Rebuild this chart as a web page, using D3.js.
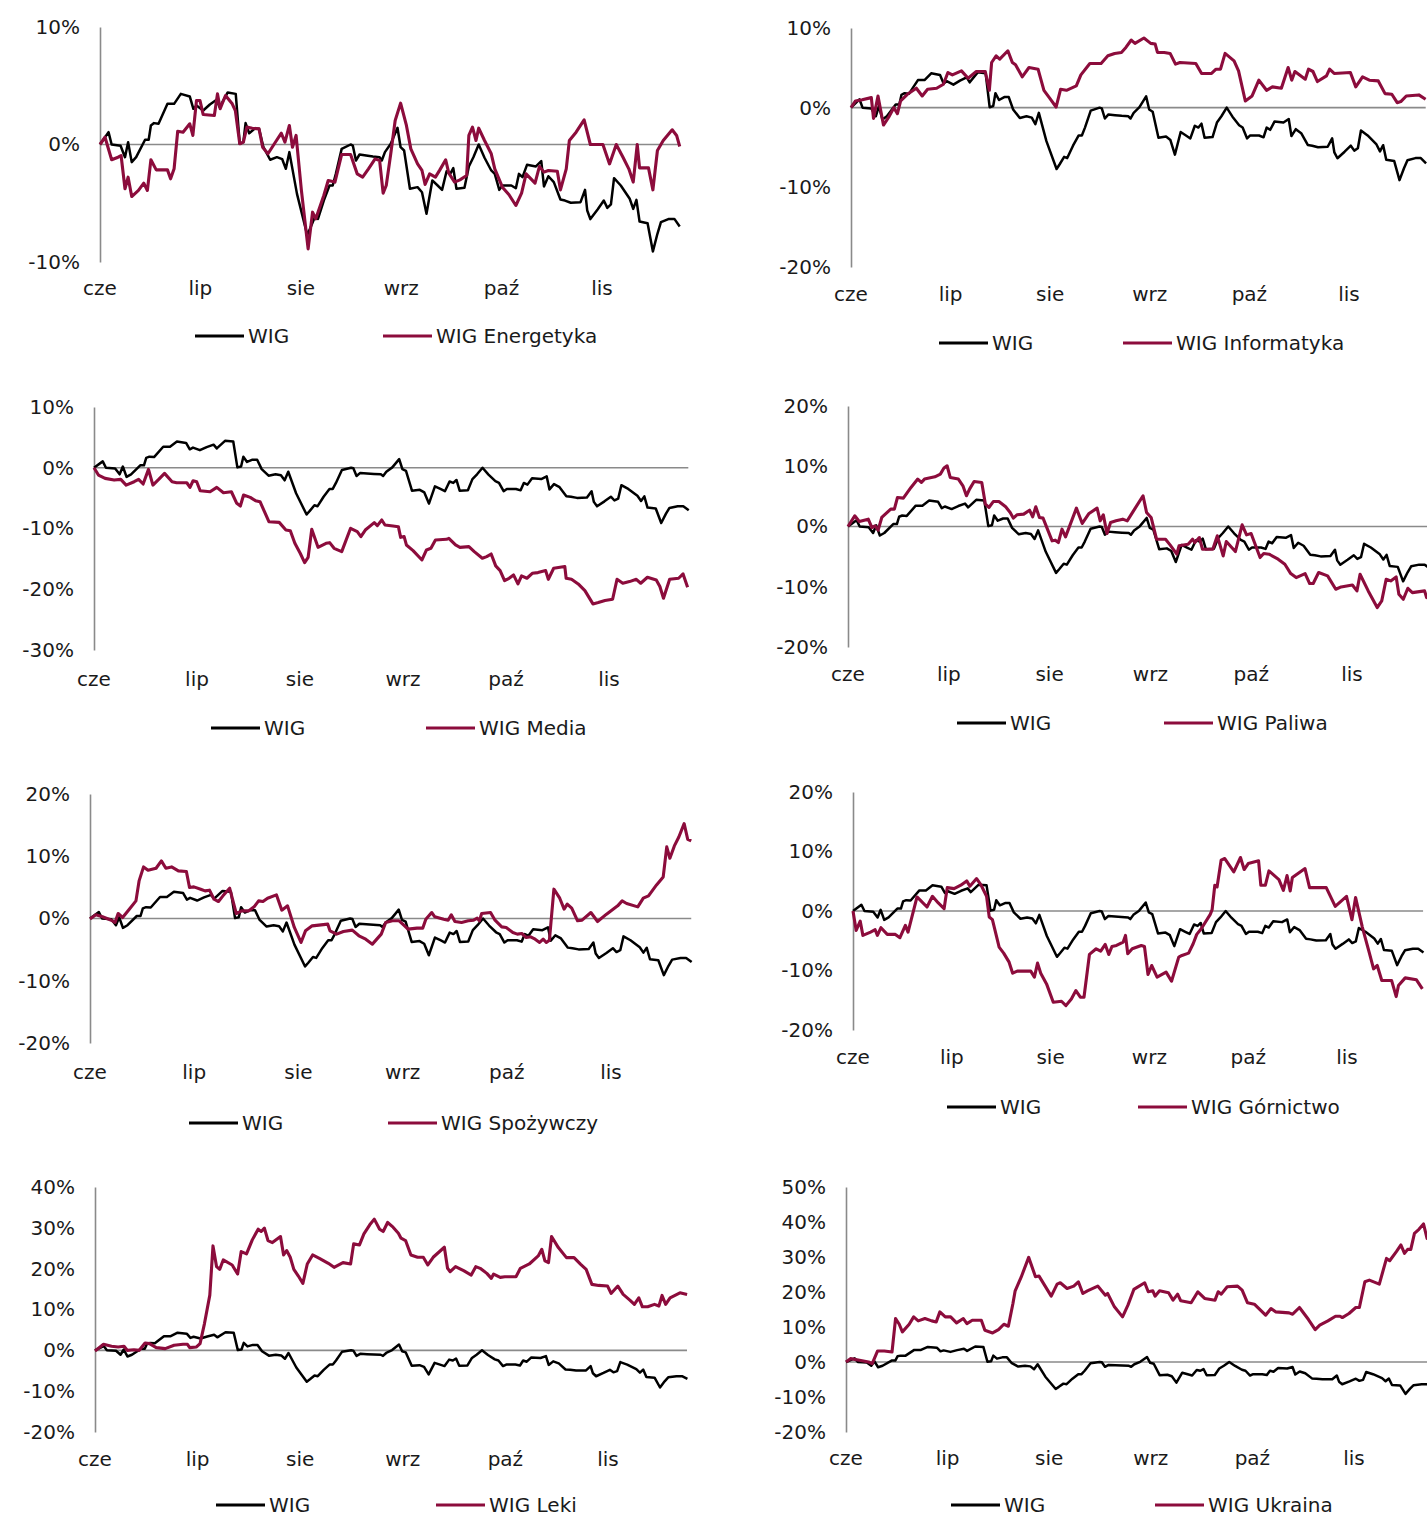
<!DOCTYPE html>
<html lang="pl">
<head>
<meta charset="UTF-8"/>
<title>WIG vs indeksy sektorowe</title>
<script src="https://d3js.org/d3.v7.min.js"></script>
<style>
  html, body { margin: 0; padding: 0; background: #fff; overflow: hidden; }
  svg text { font-family: Verdana, "DejaVu Sans", sans-serif; font-size: 20px; fill: #1a1a1a; }
</style>
</head>
<body>
<script>
// month labels (x axis), position 0 = start of June
var months = ["cze", "lip", "sie", "wrz", "paź", "lis"];
var lastT = 5.77;

// series: [months since 1 June, % change]
var wig = [[0,0],[0.085,1.05],[0.116,0],[0.205,-0.11],[0.249,-1.08],[0.28,0.2],[0.316,-1.5],[0.36,-1.08],[0.449,0.4],[0.485,0.4],[0.507,1.62],[0.538,1.82],[0.583,1.76],[0.672,3.46],[0.738,3.46],[0.805,4.31],[0.894,4.09],[0.93,3.04],[0.961,3.32],[1.028,2.89],[1.094,3.4],[1.161,3.8],[1.192,3.18],[1.272,4.43],[1.352,4.31],[1.392,0.06],[1.428,0.2],[1.45,1.82],[1.486,0.96],[1.539,1.33],[1.584,1.33],[1.628,-0.23],[1.695,-1.3],[1.762,-1.08],[1.815,-1.25],[1.851,-2.07],[1.886,-0.65],[1.962,-4.2],[2.064,-7.7],[2.095,-7.1],[2.14,-6.18],[2.171,-6.33],[2.229,-4.77],[2.286,-3.49],[2.318,-3.49],[2.349,-2.5],[2.407,-0.37],[2.496,0],[2.518,-0.09],[2.549,-1.36],[2.585,-0.85],[2.651,-0.94],[2.718,-1.02],[2.785,-1.08],[2.807,-1.36],[2.838,-0.65],[2.896,0.06],[2.963,1.42],[2.994,-0.23],[3.029,-0.51],[3.087,-3.77],[3.163,-3.63],[3.207,-4.06],[3.252,-5.9],[3.31,-3.06],[3.363,-3.49],[3.407,-3.86],[3.452,-2.27],[3.488,-2.5],[3.519,-2.01],[3.55,-3.77],[3.63,-3.69],[3.674,-1.87],[3.719,-1.08],[3.772,0],[3.83,-1.13],[3.897,-2.21],[3.932,-2.5],[3.977,-3.86],[4.008,-3.49],[4.097,-3.49],[4.142,-3.72],[4.173,-2.5],[4.208,-2.78],[4.253,-1.73],[4.342,-1.87],[4.395,-1.42],[4.422,-3.57],[4.466,-2.7],[4.52,-3.2],[4.586,-4.68],[4.631,-4.77],[4.689,-4.96],[4.786,-4.91],[4.831,-3.86],[4.853,-5.62],[4.884,-6.35],[4.956,-5.53],[5.018,-4.77],[5.053,-5.39],[5.089,-5.1],[5.12,-2.87],[5.187,-3.49],[5.276,-4.62],[5.311,-5.48],[5.343,-4.71],[5.374,-6.55],[5.454,-6.7],[5.507,-9.1],[5.552,-7.6],[5.587,-6.61],[5.667,-6.33],[5.721,-6.33],[5.774,-6.98]];

var energetyka = [[0,0],[0.05,0.62],[0.116,-1.3],[0.18,-1.08],[0.21,-0.94],[0.249,-3.77],[0.28,-2.78],[0.316,-4.43],[0.383,-3.91],[0.436,-3.29],[0.472,-3.91],[0.507,-1.3],[0.56,-2.16],[0.672,-2.16],[0.703,-2.92],[0.738,-2.07],[0.774,1.13],[0.827,1.05],[0.894,1.76],[0.925,0.77],[0.961,3.74],[0.996,3.74],[1.028,2.55],[1.139,2.47],[1.17,4.31],[1.197,3.04],[1.25,4.17],[1.317,3.46],[1.348,2.89],[1.392,0.06],[1.428,0.2],[1.463,1.48],[1.517,1.39],[1.584,1.33],[1.62,-0.23],[1.673,-0.79],[1.74,0.11],[1.806,0.96],[1.842,0.2],[1.886,1.62],[1.917,-0.23],[1.953,0.77],[2.006,-3.91],[2.073,-8.88],[2.117,-5.76],[2.149,-6.33],[2.229,-4.34],[2.273,-3.06],[2.34,-3.2],[2.407,-0.85],[2.496,-0.85],[2.562,-2.5],[2.616,-2.78],[2.674,-2.07],[2.74,-1.22],[2.785,-1.36],[2.82,-4.14],[2.851,-3.49],[2.896,-0.79],[2.94,2.04],[2.994,3.52],[3.052,1.62],[3.096,-0.37],[3.163,-1.65],[3.207,-2.21],[3.238,-3.4],[3.283,-2.5],[3.341,-2.78],[3.385,-2.16],[3.443,-1.3],[3.474,-2.44],[3.532,-3.2],[3.585,-3.01],[3.652,-2.64],[3.674,0.77],[3.71,1.48],[3.745,0.34],[3.772,1.39],[3.83,0.34],[3.897,-0.79],[3.932,-2.07],[4.008,-3.63],[4.074,-4.28],[4.142,-5.19],[4.199,-4.14],[4.244,-2.5],[4.333,-3.29],[4.377,-1.87],[4.422,-2.35],[4.466,-2.21],[4.555,-2.27],[4.586,-3.86],[4.644,-2.07],[4.675,0.34],[4.742,1.05],[4.822,2.1],[4.884,0],[5.009,0],[5.075,-1.65],[5.142,0],[5.209,-1.08],[5.267,-2.07],[5.311,-3.2],[5.351,0],[5.374,-1.99],[5.463,-1.99],[5.507,-3.86],[5.552,-0.51],[5.61,0.34],[5.699,1.25],[5.743,0.77],[5.774,-0.17]];

var informatyka = [[0,0],[0.045,0.84],[0.113,1.0],[0.204,1.26],[0.226,-1.34],[0.271,1.47],[0.326,-2.18],[0.385,-1.05],[0.43,0],[0.466,-0.76],[0.498,0.84],[0.566,1.68],[0.656,2.44],[0.715,1.47],[0.769,2.31],[0.86,2.44],[0.928,2.94],[0.973,4.41],[1.018,4.12],[1.109,4.62],[1.176,3.7],[1.258,4.54],[1.348,4.54],[1.389,2.18],[1.412,5.67],[1.457,6.51],[1.493,6.09],[1.575,7.14],[1.62,5.67],[1.652,5.38],[1.719,3.87],[1.787,5.04],[1.878,4.83],[1.937,2.18],[1.991,1.26],[2.059,0.08],[2.104,2.31],[2.163,2.18],[2.262,2.73],[2.308,4.12],[2.398,5.55],[2.511,5.55],[2.579,6.51],[2.647,6.81],[2.715,6.93],[2.76,7.56],[2.814,8.49],[2.851,8.07],[2.941,8.74],[3.009,8.07],[3.054,7.98],[3.077,6.93],[3.145,6.93],[3.204,6.81],[3.258,5.46],[3.303,5.67],[3.462,5.55],[3.52,4.29],[3.62,4.29],[3.665,4.83],[3.71,4.83],[3.756,6.81],[3.846,5.88],[3.891,4.62],[3.959,0.84],[4.027,1.47],[4.095,3.45],[4.172,2.18],[4.231,2.61],[4.321,2.44],[4.389,5.04],[4.425,3.45],[4.457,4.54],[4.561,3.57],[4.593,4.83],[4.638,4.54],[4.683,3.28],[4.774,3.99],[4.805,4.83],[4.851,4.29],[5.014,4.41],[5.068,2.61],[5.136,3.87],[5.204,3.45],[5.294,3.36],[5.362,1.76],[5.43,1.68],[5.484,0.63],[5.52,0.76],[5.575,1.47],[5.701,1.6],[5.769,1.05]];

var media = [[0,0],[0.043,-1.2],[0.108,-1.75],[0.195,-2.03],[0.26,-1.92],[0.312,-2.85],[0.39,-2.3],[0.433,-1.92],[0.477,-2.68],[0.529,-0.27],[0.572,-2.85],[0.628,-1.92],[0.685,-0.93],[0.758,-2.3],[0.802,-2.47],[0.901,-2.47],[0.932,-3.23],[0.962,-2.14],[0.997,-2.3],[1.031,-3.78],[1.127,-3.95],[1.192,-3.23],[1.257,-4.11],[1.334,-3.95],[1.386,-5.86],[1.421,-6.3],[1.452,-4.49],[1.517,-4.88],[1.568,-5.42],[1.612,-5.59],[1.655,-7.23],[1.698,-8.88],[1.798,-8.99],[1.863,-10.25],[1.906,-10.36],[1.95,-12.44],[2.002,-14.08],[2.045,-15.62],[2.079,-14.74],[2.114,-10.14],[2.175,-13.1],[2.253,-12.44],[2.288,-12.33],[2.331,-13.26],[2.405,-13.81],[2.491,-9.97],[2.556,-10.52],[2.591,-11.34],[2.634,-10.25],[2.721,-9.04],[2.751,-9.53],[2.794,-8.6],[2.825,-9.42],[2.903,-9.59],[2.955,-9.7],[2.977,-11.45],[3.011,-11.34],[3.033,-12.71],[3.098,-13.64],[3.184,-15.18],[3.228,-13.53],[3.271,-13.26],[3.315,-11.89],[3.423,-11.78],[3.445,-11.62],[3.51,-12.71],[3.553,-13.1],[3.64,-12.99],[3.692,-13.81],[3.77,-14.9],[3.813,-14.63],[3.856,-14.19],[3.9,-16.16],[3.943,-16.93],[3.986,-18.58],[4.03,-18.19],[4.073,-17.64],[4.116,-19.12],[4.151,-17.81],[4.203,-18.19],[4.255,-17.37],[4.31,-17.26],[4.385,-16.93],[4.411,-18.36],[4.463,-16.55],[4.571,-16.27],[4.584,-18.19],[4.636,-18.36],[4.701,-19.12],[4.766,-20.22],[4.844,-22.41],[4.896,-22.19],[4.961,-21.86],[5.035,-21.64],[5.078,-18.36],[5.134,-19.01],[5.199,-18.74],[5.265,-18.36],[5.308,-19.01],[5.373,-18.03],[5.459,-18.47],[5.494,-19.56],[5.529,-21.48],[5.589,-18.36],[5.676,-18.19],[5.719,-17.48],[5.763,-19.67]];

var paliwa = [[0,0],[0.067,1.77],[0.112,0.83],[0.201,1.22],[0.237,-0.17],[0.268,0.11],[0.299,-0.61],[0.335,1.5],[0.424,2.88],[0.46,2.88],[0.491,4.82],[0.549,4.71],[0.625,6.48],[0.692,7.87],[0.728,7.31],[0.759,7.87],[0.862,8.25],[0.916,8.7],[0.952,9.7],[0.983,10.08],[1.014,8.14],[1.095,7.87],[1.14,6.76],[1.175,5.1],[1.206,6.2],[1.251,7.48],[1.327,7.31],[1.363,3.71],[1.398,3.16],[1.443,4.16],[1.497,4.16],[1.564,3.27],[1.609,2.33],[1.64,1.39],[1.676,1.94],[1.743,2.05],[1.801,2.71],[1.832,1.61],[1.863,3.27],[1.899,1.5],[1.935,1.39],[2.025,-2.38],[2.056,-2.27],[2.087,-2.66],[2.123,-0.44],[2.158,-1.72],[2.266,3.05],[2.324,0.5],[2.391,2.16],[2.471,3.05],[2.502,0.94],[2.533,1.94],[2.569,-1.16],[2.605,0.66],[2.659,0.94],[2.726,1.22],[2.77,0.94],[2.837,2.71],[2.927,5.1],[2.962,2.33],[3.007,1.5],[3.061,-2.11],[3.15,-2.11],[3.195,-3.05],[3.262,-4.6],[3.284,-3.21],[3.374,-2.94],[3.418,-2.11],[3.441,-2.66],[3.485,-1.83],[3.517,-3.77],[3.619,-3.77],[3.664,-1.55],[3.722,-4.88],[3.753,-2.49],[3.843,-4.16],[3.91,0.28],[3.954,-1.39],[3.999,-1.16],[4.088,-5.15],[4.124,-4.49],[4.178,-4.6],[4.267,-5.43],[4.334,-6.26],[4.392,-7.81],[4.446,-8.48],[4.535,-7.81],[4.58,-9.47],[4.615,-9.47],[4.669,-7.64],[4.758,-8.2],[4.839,-10.42],[4.892,-10.03],[5.004,-9.7],[5.049,-10.69],[5.08,-7.92],[5.161,-10.69],[5.25,-13.46],[5.295,-12.35],[5.339,-8.75],[5.384,-9.03],[5.438,-8.37],[5.465,-11.25],[5.509,-12.08],[5.554,-10.25],[5.599,-10.97],[5.72,-10.69],[5.74,-11.8],[5.774,-11.2]];

var spozywczy = [[0,-0.1],[0.056,0.59],[0.12,0.27],[0.205,-0.27],[0.24,-0.64],[0.27,0.8],[0.313,0.16],[0.377,1.5],[0.441,2.83],[0.471,6.04],[0.514,8.29],[0.557,7.75],[0.634,8.07],[0.685,9.25],[0.728,8.07],[0.783,8.29],[0.848,7.65],[0.925,7.54],[0.955,4.97],[0.997,5.08],[1.062,4.71],[1.104,4.44],[1.147,4.55],[1.19,3.1],[1.233,2.73],[1.276,3.64],[1.34,4.87],[1.404,0.8],[1.455,1.23],[1.524,1.23],[1.575,1.87],[1.618,2.83],[1.66,2.73],[1.704,3.26],[1.789,3.8],[1.841,1.34],[1.896,2.03],[1.961,-1.44],[2.025,-3.85],[2.068,-1.98],[2.132,-1.18],[2.218,-1.02],[2.282,-0.91],[2.303,-1.98],[2.367,-2.51],[2.432,-2.09],[2.517,-1.87],[2.581,-2.78],[2.646,-3.32],[2.71,-4.12],[2.795,-2.51],[2.838,-0.64],[2.902,-0.37],[2.967,-0.37],[3.009,-1.02],[3.052,-1.71],[3.138,-1.55],[3.193,-1.55],[3.223,-0.11],[3.279,0.96],[3.309,0.27],[3.394,-0.11],[3.437,-0.27],[3.467,0.59],[3.502,-0.48],[3.566,-0.64],[3.63,-0.37],[3.682,-0.27],[3.716,0.05],[3.737,-0.37],[3.759,0.8],[3.844,0.96],[3.887,-0.27],[3.951,-1.34],[3.994,-1.44],[4.058,-2.25],[4.101,-2.51],[4.144,-2.41],[4.187,-3.05],[4.229,-2.94],[4.272,-3.32],[4.315,-3.85],[4.349,-3.32],[4.379,-3.85],[4.409,-3.48],[4.452,4.71],[4.508,3.26],[4.55,1.5],[4.58,2.3],[4.623,1.66],[4.679,-0.37],[4.722,-0.27],[4.807,0.96],[4.871,-0.48],[4.957,0.7],[5.064,2.03],[5.107,2.83],[5.15,2.41],[5.257,1.87],[5.31,3.26],[5.36,3.64],[5.437,5.4],[5.501,6.68],[5.535,11.5],[5.565,9.68],[5.608,11.66],[5.651,13.1],[5.702,15.24],[5.736,12.73],[5.77,12.46]];

var gornictwo = [[0,0],[0.032,-3.26],[0.073,-1.69],[0.1,-4.1],[0.178,-3.54],[0.224,-3.15],[0.247,-4.1],[0.283,-2.81],[0.347,-3.93],[0.429,-3.93],[0.475,-4.49],[0.53,-2.42],[0.557,-3.54],[0.648,2.36],[0.749,0.67],[0.804,2.47],[0.863,1.35],[0.922,0.39],[0.954,3.93],[1.023,3.76],[1.091,4.33],[1.151,5.06],[1.183,4.16],[1.251,5.45],[1.297,4.33],[1.352,2.47],[1.379,-1.01],[1.411,-1.46],[1.479,-6.07],[1.525,-7.08],[1.58,-8.6],[1.616,-10.45],[1.662,-10.11],[1.799,-10.11],[1.836,-11.12],[1.868,-8.76],[1.9,-10.45],[1.959,-12.25],[2.027,-15.34],[2.11,-15.17],[2.155,-15.9],[2.21,-14.78],[2.256,-13.37],[2.301,-14.49],[2.338,-14.49],[2.393,-7.3],[2.461,-6.35],[2.507,-6.74],[2.553,-5.62],[2.589,-7.3],[2.621,-5.96],[2.667,-5.79],[2.735,-5.22],[2.758,-4.1],[2.781,-7.19],[2.826,-6.35],[2.918,-5.79],[2.95,-5.96],[2.986,-10.67],[3.023,-9.16],[3.078,-11.12],[3.169,-10.28],[3.224,-11.8],[3.297,-7.75],[3.329,-7.47],[3.397,-7.08],[3.443,-5.51],[3.479,-3.93],[3.525,-2.98],[3.616,-0.56],[3.635,0.22],[3.662,4.33],[3.685,4.04],[3.726,8.54],[3.763,8.82],[3.854,6.57],[3.922,8.99],[3.959,6.97],[4.0,7.98],[4.105,8.43],[4.128,4.33],[4.174,4.33],[4.21,6.74],[4.311,5.28],[4.356,3.48],[4.393,5.96],[4.425,3.37],[4.447,5.62],[4.575,7.13],[4.621,3.93],[4.79,3.93],[4.881,0.79],[4.995,2.47],[5.05,-1.46],[5.087,2.25],[5.155,-2.7],[5.224,-6.91],[5.269,-9.72],[5.306,-9.16],[5.352,-11.69],[5.452,-11.69],[5.498,-14.38],[5.521,-12.53],[5.589,-11.24],[5.703,-11.57],[5.763,-13.09]];

var leki = [[0,-0.16],[0.083,1.48],[0.161,0.98],[0.226,0.82],[0.283,0.98],[0.314,0],[0.379,0.16],[0.431,0],[0.488,1.8],[0.531,1.64],[0.597,0.66],[0.684,0.41],[0.771,1.23],[0.858,1.48],[0.901,1.48],[0.923,0.66],[0.989,0.82],[1.024,1.64],[1.067,6.56],[1.119,13.52],[1.15,25.57],[1.185,20.49],[1.215,19.84],[1.25,22.13],[1.337,20.9],[1.39,18.69],[1.425,24.18],[1.477,23.61],[1.533,27.05],[1.59,29.67],[1.62,29.1],[1.651,29.92],[1.686,26.89],[1.729,26.39],[1.808,27.87],[1.838,23.36],[1.868,24.43],[1.903,22.79],[1.938,19.84],[1.982,18.2],[2.026,16.39],[2.069,21.15],[2.121,23.36],[2.187,22.54],[2.274,21.31],[2.33,20.33],[2.417,21.48],[2.491,21.15],[2.521,26.07],[2.578,25.82],[2.621,28.52],[2.678,30.74],[2.722,32.13],[2.774,29.67],[2.809,29.1],[2.852,31.31],[2.905,30.16],[2.957,28.69],[2.983,27.46],[3.027,26.89],[3.079,23.36],[3.144,22.79],[3.2,22.79],[3.244,20.9],[3.296,22.79],[3.405,25.25],[3.436,20.08],[3.462,19.26],[3.514,20.49],[3.593,19.51],[3.667,18.44],[3.711,20.49],[3.754,20.08],[3.819,18.85],[3.863,17.62],[3.885,18.69],[3.95,17.87],[3.994,18.03],[4.103,18.03],[4.146,20.08],[4.233,21.15],[4.32,23.11],[4.355,24.75],[4.385,21.89],[4.42,21.48],[4.45,27.87],[4.516,25.16],[4.595,22.71],[4.669,22.71],[4.734,21.07],[4.787,19.84],[4.843,16.15],[4.909,15.9],[4.996,15.74],[5.03,13.93],[5.096,15.74],[5.148,13.69],[5.213,12.3],[5.257,11.25],[5.3,12.87],[5.335,10.66],[5.387,10.66],[5.453,11.25],[5.496,10.84],[5.527,13.44],[5.562,11.25],[5.605,12.87],[5.701,14.1],[5.771,13.69]];

var ukraina = [[0,0],[0.044,0.96],[0.133,0.48],[0.222,0],[0.258,-0.48],[0.311,3.15],[0.377,3.15],[0.453,2.87],[0.488,12.42],[0.524,10.79],[0.555,8.6],[0.622,10.79],[0.666,12.89],[0.711,11.75],[0.777,12.42],[0.844,11.75],[0.888,11.46],[0.924,14.33],[0.977,12.89],[1.03,12.89],[1.088,11.17],[1.155,12.42],[1.19,10.98],[1.243,11.94],[1.332,11.94],[1.367,9.07],[1.443,8.31],[1.501,9.26],[1.554,10.79],[1.598,10.22],[1.643,16.71],[1.665,20.34],[1.723,24.16],[1.798,29.89],[1.865,24.36],[1.9,24.55],[1.954,21.97],[2.02,18.82],[2.078,22.25],[2.109,22.64],[2.176,21.01],[2.242,21.68],[2.287,22.92],[2.331,19.58],[2.376,20.34],[2.478,21.68],[2.553,19.1],[2.575,19.58],[2.642,15.76],[2.722,12.89],[2.775,16.24],[2.833,20.73],[2.94,22.64],[2.975,20.06],[3.02,20.34],[3.042,18.82],[3.086,20.34],[3.175,19.77],[3.219,17.67],[3.264,19.39],[3.295,17.48],[3.397,16.91],[3.463,20.06],[3.53,18.15],[3.632,17.67],[3.663,20.06],[3.694,19.39],[3.752,21.49],[3.854,21.68],[3.899,20.53],[3.952,16.91],[4.019,16.52],[4.13,13.37],[4.183,15.28],[4.228,14.33],[4.361,14.04],[4.396,13.66],[4.463,15.57],[4.552,12.13],[4.618,9.26],[4.663,10.51],[4.743,11.75],[4.818,13.08],[4.863,13.08],[4.885,12.7],[4.951,13.85],[5.018,15.57],[5.053,15.57],[5.107,22.92],[5.151,23.4],[5.249,22.25],[5.32,29.6],[5.351,28.94],[5.417,31.52],[5.462,33.43],[5.497,31.04],[5.528,32.19],[5.559,32.19],[5.595,36.77],[5.639,37.92],[5.684,39.45],[5.719,35.34],[5.77,36.5]];

// panel layout (pixels) – not data
var panels = [
  {name: "WIG Energetyka",  s: energetyka,  ticks: [-10, 0, 10],                    ax: 100, top: 27,   bot: 262,  mw: 100.4, lab: 288,  leg: 336,  lb: 195, lr: 383},
  {name: "WIG Informatyka", s: informatyka, ticks: [-20, -10, 0, 10],              ax: 851, top: 28,   bot: 267,  mw: 99.6,  lab: 294,  leg: 343,  lb: 939, lr: 1123},
  {name: "WIG Media",       s: media,       ticks: [-30, -20, -10, 0, 10],         ax: 94,  top: 407,  bot: 650,  mw: 103,   lab: 679,  leg: 728,  lb: 211, lr: 426},
  {name: "WIG Paliwa",      s: paliwa,      ticks: [-20, -10, 0, 10, 20],          ax: 848, top: 406,  bot: 647,  mw: 100.8, lab: 674,  leg: 723,  lb: 957, lr: 1164},
  {name: "WIG Spożywczy",   s: spozywczy,   ticks: [-20, -10, 0, 10, 20],          ax: 90,  top: 794,  bot: 1043, mw: 104.2, lab: 1072, leg: 1123, lb: 189, lr: 388},
  {name: "WIG Górnictwo",   s: gornictwo,   ticks: [-20, -10, 0, 10, 20],          ax: 853, top: 792,  bot: 1030, mw: 98.8,  lab: 1057, leg: 1107, lb: 947, lr: 1138},
  {name: "WIG Leki",        s: leki,        ticks: [-20, -10, 0, 10, 20, 30, 40],  ax: 95,  top: 1187, bot: 1432, mw: 102.6, lab: 1459, leg: 1505, lb: 216, lr: 436},
  {name: "WIG Ukraina",     s: ukraina,     ticks: [-20, -10, 0, 10, 20, 30, 40, 50], ax: 846, top: 1187, bot: 1432, mw: 101.6, lab: 1458, leg: 1505, lb: 951, lr: 1155}
];

var red = "#8c0c3c";

var svg = d3.select("body").append("svg")
  .attr("width", 1427)
  .attr("height", 1517);

panels.forEach(function (p) {
  var g = svg.append("g");

  var x = d3.scaleLinear().domain([0, lastT]).range([p.ax, p.ax + lastT * p.mw]);
  var y = d3.scaleLinear().domain([d3.min(p.ticks), d3.max(p.ticks)]).range([p.bot, p.top]);

  // y axis
  var yAxis = d3.axisLeft(y).tickValues(p.ticks).tickSize(0).tickPadding(20)
    .tickFormat(function (d) { return d + "%"; });
  var ya = g.append("g").attr("transform", "translate(" + p.ax + ",0)").call(yAxis);
  ya.select(".domain").attr("stroke", "#8a8a8a").attr("stroke-width", 1.6);
  ya.selectAll("text").attr("font-size", null).attr("font-family", null).attr("fill", "#1a1a1a");

  // zero line
  g.append("line")
    .attr("x1", x(0)).attr("x2", x(lastT))
    .attr("y1", y(0)).attr("y2", y(0))
    .attr("stroke", "#8a8a8a").attr("stroke-width", 1.6);

  // month labels
  g.selectAll("text.m").data(months).enter().append("text")
    .attr("class", "m")
    .attr("x", function (d, i) { return x(i); })
    .attr("y", p.lab)
    .attr("text-anchor", "middle")
    .attr("dominant-baseline", "central")
    .text(function (d) { return d; });

  var line = d3.line()
    .x(function (d) { return x(d[0]); })
    .y(function (d) { return y(d[1]); });

  g.append("path").datum(wig)
    .attr("d", line).attr("fill", "none")
    .attr("stroke", "#000").attr("stroke-width", 2.5).attr("stroke-linejoin", "round");

  g.append("path").datum(p.s)
    .attr("d", line).attr("fill", "none")
    .attr("stroke", red).attr("stroke-width", 3.1).attr("stroke-linejoin", "round");

  // legend
  var legend = [{label: "WIG", color: "#000", x: p.lb}, {label: p.name, color: red, x: p.lr}];
  legend.forEach(function (l) {
    g.append("line")
      .attr("x1", l.x).attr("x2", l.x + 49)
      .attr("y1", p.leg).attr("y2", p.leg)
      .attr("stroke", l.color).attr("stroke-width", 3);
    g.append("text")
      .attr("x", l.x + 53).attr("y", p.leg)
      .attr("dominant-baseline", "central")
      .text(l.label);
  });
});
</script>
</body>
</html>
